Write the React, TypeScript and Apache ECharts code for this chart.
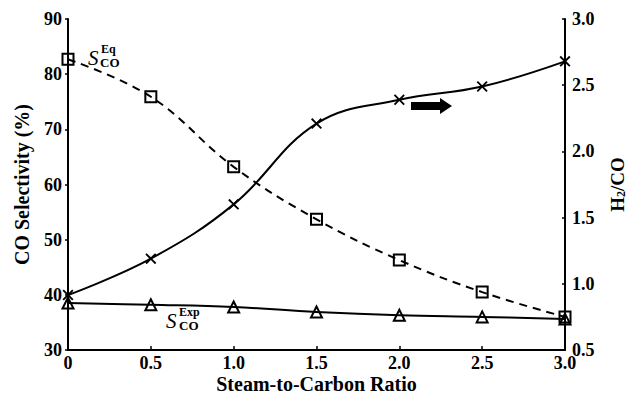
import React, { useEffect, useRef } from "react";
import * as echarts from "echarts";

const xValues = [0, 0.5, 1.0, 1.5, 2.0, 2.5, 3.0];
const eqSelectivity = [82.7, 75.9, 63.2, 53.7, 46.3, 40.5, 36.0];
const expSelectivity = [38.5, 38.2, 37.8, 36.9, 36.3, 36.0, 35.6];
const h2coRatio = [0.915, 1.19, 1.6, 2.21, 2.39, 2.49, 2.68];

const FONT = "Times New Roman, Liberation Serif, serif";
const CROSS = "path://M0,1.2L1.2,0L5,3.8L8.8,0L10,1.2L6.2,5L10,8.8L8.8,10L5,6.2L1.2,10L0,8.8L3.8,5Z";

export default function App() {
  const ref = useRef<HTMLDivElement>(null);
  useEffect(() => {
    if (!ref.current) return;
    const chart = echarts.init(ref.current, null, { renderer: "svg" });
    const pair = (ys: number[]) => xValues.map((x, i) => [x, ys[i]]);
    const labelStyle = { color: "#000", fontFamily: FONT, fontWeight: "bold" as const, fontSize: 18 };
    chart.setOption({
      animation: false,
      backgroundColor: "#fff",
      textStyle: { fontFamily: FONT },
      grid: { left: 68, right: 66, top: 19, bottom: 48, containLabel: false, outerBoundsMode: "none" },
      xAxis: {
        type: "value",
        min: 0,
        max: 3,
        interval: 0.5,
        name: "Steam-to-Carbon Ratio",
        nameLocation: "middle",
        nameGap: 24,
        nameMoveOverlap: false,
        nameTextStyle: { color: "#000", fontFamily: FONT, fontWeight: "bold", fontSize: 20 },
        axisLine: { lineStyle: { color: "#000", width: 2 } },
        axisTick: { inside: true, length: 4, lineStyle: { color: "#000", width: 1.5 } },
        axisLabel: { ...labelStyle, margin: 4, formatter: (v: number) => (v === 0 ? "0" : v.toFixed(1)) },
        splitLine: { show: false },
      },
      yAxis: [
        {
          type: "value",
          min: 30,
          max: 90,
          interval: 10,
          name: "CO Selectivity (%)",
          nameLocation: "middle",
          nameGap: 36,
          nameMoveOverlap: false,
          nameTextStyle: { color: "#000", fontFamily: FONT, fontWeight: "bold", fontSize: 20 },
          axisLine: { show: true, lineStyle: { color: "#000", width: 2 } },
          axisTick: { show: true, length: 3, lineStyle: { color: "#000", width: 1.5 } },
          axisLabel: { ...labelStyle, margin: 6 },
          splitLine: { show: false },
        },
        {
          type: "value",
          min: 0.5,
          max: 3.0,
          interval: 0.5,
          position: "right",
          name: "{a|H}{b|2}{a|/CO}",
          nameLocation: "middle",
          nameGap: 43,
          nameMoveOverlap: false,
          nameTextStyle: {
            color: "#000",
            fontFamily: FONT,
            rich: {
              a: { fontFamily: FONT, fontWeight: "bold", fontSize: 19, color: "#000" },
              b: { fontFamily: FONT, fontWeight: "bold", fontSize: 12, color: "#000", padding: [7, 0, 0, 0] },
            },
          },
          axisLine: { show: true, lineStyle: { color: "#000", width: 2 } },
          axisTick: { show: true, inside: true, length: 3, lineStyle: { color: "#000", width: 1.5 } },
          axisLabel: { ...labelStyle, margin: 7, formatter: (v: number) => v.toFixed(1) },
          splitLine: { show: false },
        },
      ],
      series: [
        {
          type: "line",
          name: "Eq",
          yAxisIndex: 0,
          data: pair(eqSelectivity),
          smooth: 0.4,
          symbol: "rect",
          symbolSize: 11,
          lineStyle: { color: "#000", width: 2, type: [8, 6] },
          itemStyle: { color: "rgba(0,0,0,0)", borderColor: "#000", borderWidth: 2 },
          z: 3,
        },
        {
          type: "line",
          name: "Exp",
          yAxisIndex: 0,
          data: pair(expSelectivity),
          smooth: 0.4,
          symbol: "triangle",
          symbolSize: 11,
          lineStyle: { color: "#000", width: 2 },
          itemStyle: { color: "rgba(0,0,0,0)", borderColor: "#000", borderWidth: 2 },
          z: 3,
        },
        {
          type: "line",
          name: "H2/CO",
          yAxisIndex: 1,
          data: pair(h2coRatio),
          smooth: 0.4,
          symbol: CROSS,
          symbolSize: 11,
          lineStyle: { color: "#000", width: 2 },
          itemStyle: { color: "#000" },
          z: 4,
        },
      ],
      graphic: [
        { type: "text", left: 88, top: 47, style: { text: "S", fontFamily: FONT, fontStyle: "italic", fontSize: 21, fill: "#000" } },
        { type: "text", left: 101, top: 43, style: { text: "Eq", fontFamily: FONT, fontWeight: "bold", fontSize: 12, fill: "#000" } },
        { type: "text", left: 100, top: 56, style: { text: "CO", fontFamily: FONT, fontWeight: "bold", fontSize: 13, fill: "#000" } },
        { type: "text", left: 166, top: 310, style: { text: "S", fontFamily: FONT, fontStyle: "italic", fontSize: 21, fill: "#000" } },
        { type: "text", left: 179, top: 306, style: { text: "Exp", fontFamily: FONT, fontWeight: "bold", fontSize: 12, fill: "#000" } },
        { type: "text", left: 179, top: 319, style: { text: "CO", fontFamily: FONT, fontWeight: "bold", fontSize: 13, fill: "#000" } },
        {
          type: "polygon",
          shape: {
            points: [
              [411, 102],
              [440, 102],
              [440, 98],
              [452, 106],
              [440, 114],
              [440, 110],
              [411, 110],
            ],
          },
          style: { fill: "#000" },
        },
      ],
    });
    return () => chart.dispose();
  }, []);
  return <div ref={ref} style={{ position: "fixed", left: 0, top: 0, width: 631, height: 398 }} />;
}
